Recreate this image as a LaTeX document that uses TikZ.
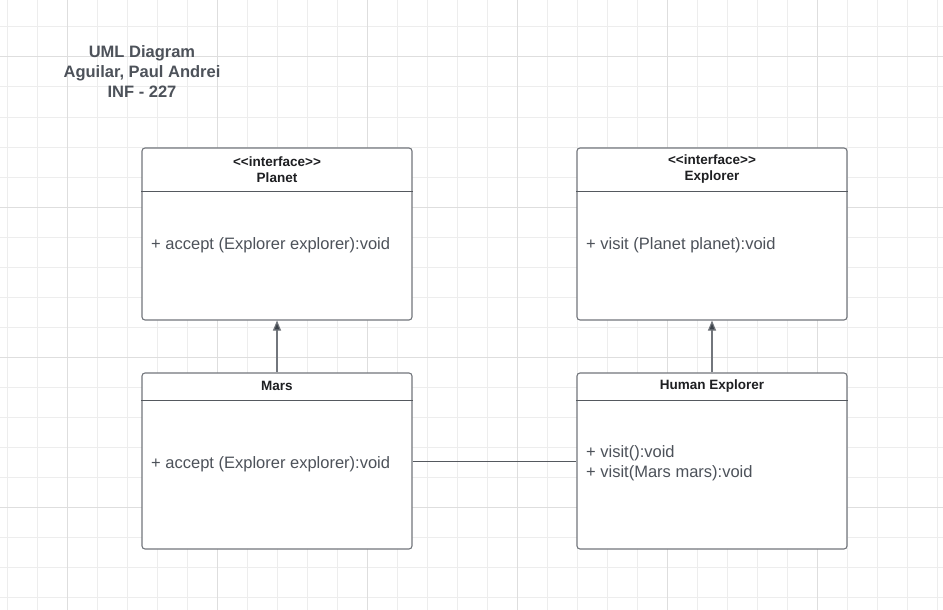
\documentclass[tikz,border=0pt]{standalone}
\usepackage{fontspec}
\setmainfont{Liberation Sans}
\usetikzlibrary{arrows.meta}

\definecolor{gridminor}{HTML}{EDEDED}
\definecolor{gridmajor}{HTML}{DEDEDE}
\definecolor{boxgray}{HTML}{72767C}
\definecolor{sepgray}{HTML}{55595F}
\definecolor{textgray}{HTML}{4D525A}
\definecolor{headblack}{HTML}{1E1F22}
\definecolor{arrowdark}{HTML}{3B4149}

% guillemets written as two separate angle brackets
\newcommand{\stereo}[1]{\mbox{<}\mbox{<}#1\mbox{>}\mbox{>}}

\tikzset{
  umlbox/.style={draw=boxgray, line width=1.1pt, rounded corners=3pt, fill=white,
    minimum width=270pt, inner sep=0pt},
  sep/.style={draw=sepgray, line width=1pt},
  header/.style={align=center, text=headblack, inner sep=0pt,
    font=\bfseries\fontsize{13.5}{16}\selectfont},
  method/.style={anchor=west, align=left, text=textgray, inner sep=0pt,
    font=\fontsize{16.5}{20}\selectfont},
  realize/.style={draw=boxgray, line width=1.1pt, -{Triangle[length=10pt,width=8pt,fill=arrowdark]}},
  assoc/.style={draw=sepgray, line width=1pt}
}

\begin{document}
\begin{tikzpicture}[x=1pt, y=-1pt]
        \useasboundingbox (0,0) rectangle (943,610);
        \fill[white] (0,0) rectangle (943,610);
        \foreach \gx in {7,37,...,937}
            \draw[gridminor, line width=1pt] (\gx,0) -- (\gx,610);
        \foreach \gy in {27,57,...,597}
            \draw[gridminor, line width=1pt] (0,\gy) -- (943,\gy);
        \foreach \gx in {67,217,...,817}
            \draw[gridmajor, line width=1pt] (\gx,0) -- (\gx,610);
        \foreach \gy in {57,207,...,507}
            \draw[gridmajor, line width=1pt] (0,\gy) -- (943,\gy);

        \node[align=center, text=textgray, font=\bfseries\fontsize{16.5}{20}\selectfont] (title) at (142,72)
            {UML Diagram\\Aguilar, Paul Andrei\\INF - 227};

        \node[umlbox, minimum height=172pt] (planet) at (277,234) {};
        \node[umlbox, minimum height=172pt] (explorer) at (712,234) {};
        \node[umlbox, minimum height=176pt] (mars) at (277,461) {};
        \node[umlbox, minimum height=176pt] (human) at (712,461) {};

        \draw[sep] ([yshift=-44pt]planet.north west) -- ([yshift=-44pt]planet.north east);
        \draw[sep] ([yshift=-44pt]explorer.north west) -- ([yshift=-44pt]explorer.north east);
        \draw[sep] ([yshift=-28pt]mars.north west) -- ([yshift=-28pt]mars.north east);
        \draw[sep] ([yshift=-28pt]human.north west) -- ([yshift=-28pt]human.north east);

        \node[header] (planethead) at (277,169.5) {\stereo{interface}\\Planet};
        \node[header] (explorerhead) at (712,169.5) {\stereo{interface}\\Explorer};
        \node[header] (marshead) at (277,386) {Mars};
        \node[header] (humanhead) at (712,386) {Human Explorer};

        \node[method] (planetop) at (151,245) {+ accept (Explorer explorer):void};
        \node[method] (explorerop) at (586,245) {+ visit (Planet planet):void};
        \node[method] (marsop) at (151,464) {+ accept (Explorer explorer):void};
        \node[method] (humanop) at (586,463.5) {+ visit():void\\+ visit(Mars mars):void};

        \draw[realize] (mars.north) -- (planet.south);
        \draw[realize] (human.north) -- (explorer.south);
        \draw[assoc] (mars.east) -- (human.west);
    \end{tikzpicture}
\end{document}
